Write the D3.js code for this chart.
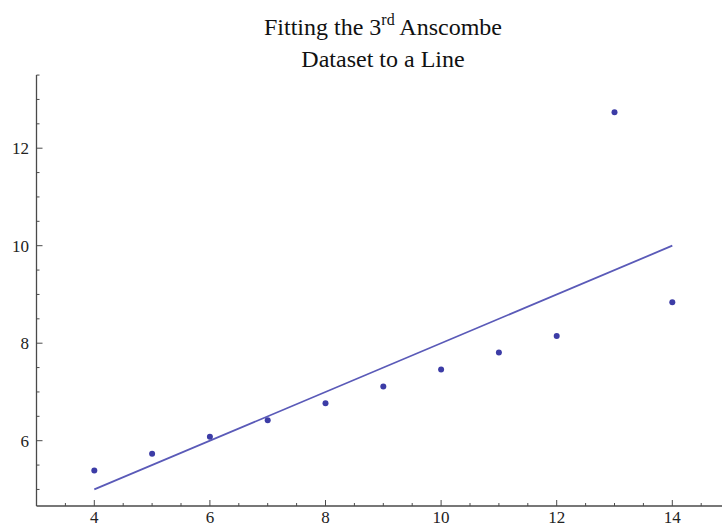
<!DOCTYPE html>
<html><head><meta charset="utf-8">
<script src="https://cdn.jsdelivr.net/npm/d3@7"></script>
<style>body{margin:0;background:#fff}svg{display:block}</style>
</head><body>
<script>
const xValues = [10, 8, 13, 9, 11, 14, 6, 4, 12, 7, 5];
const yValues = [7.46, 6.77, 12.74, 7.11, 7.81, 8.84, 6.08, 5.39, 8.15, 6.42, 5.73];
const fitLine = [{x: 4, y: 5.0}, {x: 14, y: 10.0}];
const xTickLabels = [4, 6, 8, 10, 12, 14];
const yTickLabels = [6, 8, 10, 12];
const titleLines = ["Fitting the 3", "rd", " Anscombe", "Dataset to a Line"];

const W = 722, H = 527;
const svg = d3.select("body").append("svg").attr("width", W).attr("height", H);

const xs = d3.scaleLinear().domain([3, 14]).range([36.5, 672.3]);
const ys = d3.scaleLinear().domain([6, 12]).range([440.7, 148.2]);
const xMin = 3, xMax = xs.invert(W + 2);
const yMax = 13.5;

const axisColor = "#4a4a4a";
const font = "'Liberation Serif', 'Times New Roman', serif";

// x axis
const gx = svg.append("g");
gx.append("line").attr("x1", xs(xMin)).attr("x2", W).attr("y1", 506).attr("y2", 506)
  .attr("stroke", axisColor).attr("stroke-width", 1.3);
const xMinor = d3.range(3.5, xMax, 0.5).filter(v => Math.abs(v - Math.round(v / 2) * 2) > 1e-6);
gx.selectAll(".xm").data(xMinor).join("line")
  .attr("x1", d => xs(d)).attr("x2", d => xs(d)).attr("y1", 506).attr("y2", 503)
  .attr("stroke", axisColor).attr("stroke-width", 1);
gx.selectAll(".xM").data(xTickLabels).join("line")
  .attr("x1", d => xs(d)).attr("x2", d => xs(d)).attr("y1", 506).attr("y2", 500)
  .attr("stroke", axisColor).attr("stroke-width", 1);
gx.selectAll("text").data(xTickLabels).join("text")
  .attr("x", d => xs(d)).attr("y", 523).attr("text-anchor", "middle")
  .attr("font-family", font).attr("font-size", 17).attr("fill", "#222").text(d => d);

// y axis
const gy = svg.append("g");
gy.append("line").attr("x1", 36.5).attr("x2", 36.5).attr("y1", ys(yMax)).attr("y2", 506)
  .attr("stroke", axisColor).attr("stroke-width", 1.3);
const yMinor = d3.range(5, 13.51, 0.5).filter(v => Math.abs(v - Math.round(v / 2) * 2) > 1e-6);
gy.selectAll(".ym").data(yMinor).join("line")
  .attr("x1", 36.5).attr("x2", 39.5).attr("y1", d => ys(d)).attr("y2", d => ys(d))
  .attr("stroke", axisColor).attr("stroke-width", 1);
gy.selectAll(".yM").data(yTickLabels).join("line")
  .attr("x1", 36.5).attr("x2", 42.5).attr("y1", d => ys(d)).attr("y2", d => ys(d))
  .attr("stroke", axisColor).attr("stroke-width", 1);
gy.selectAll("text").data(yTickLabels).join("text")
  .attr("x", 29).attr("y", d => ys(d) + 6).attr("text-anchor", "end")
  .attr("font-family", font).attr("font-size", 17).attr("fill", "#222").text(d => d);

// fit line
svg.append("path").datum(fitLine)
  .attr("d", d3.line().x(d => xs(d.x)).y(d => ys(d.y)))
  .attr("fill", "none").attr("stroke", "#5a5ab8").attr("stroke-width", 1.8);

// points
svg.selectAll("circle").data(xValues.map((v, i) => ({x: v, y: yValues[i]}))).join("circle")
  .attr("cx", d => xs(d.x)).attr("cy", d => ys(d.y)).attr("r", 3).attr("fill", "#3c3ca6");

// title
const t1 = svg.append("text").attr("x", 383).attr("y", 35).attr("text-anchor", "middle")
  .attr("font-family", font).attr("font-size", 24).attr("fill", "#111");
t1.append("tspan").text(titleLines[0]);
t1.append("tspan").attr("dy", -10).attr("font-size", 16).text(titleLines[1]);
t1.append("tspan").attr("dy", 10).text(titleLines[2]);
svg.append("text").attr("x", 383).attr("y", 67).attr("text-anchor", "middle")
  .attr("font-family", font).attr("font-size", 24).attr("fill", "#111").text(titleLines[3]);
</script>
</body></html>
